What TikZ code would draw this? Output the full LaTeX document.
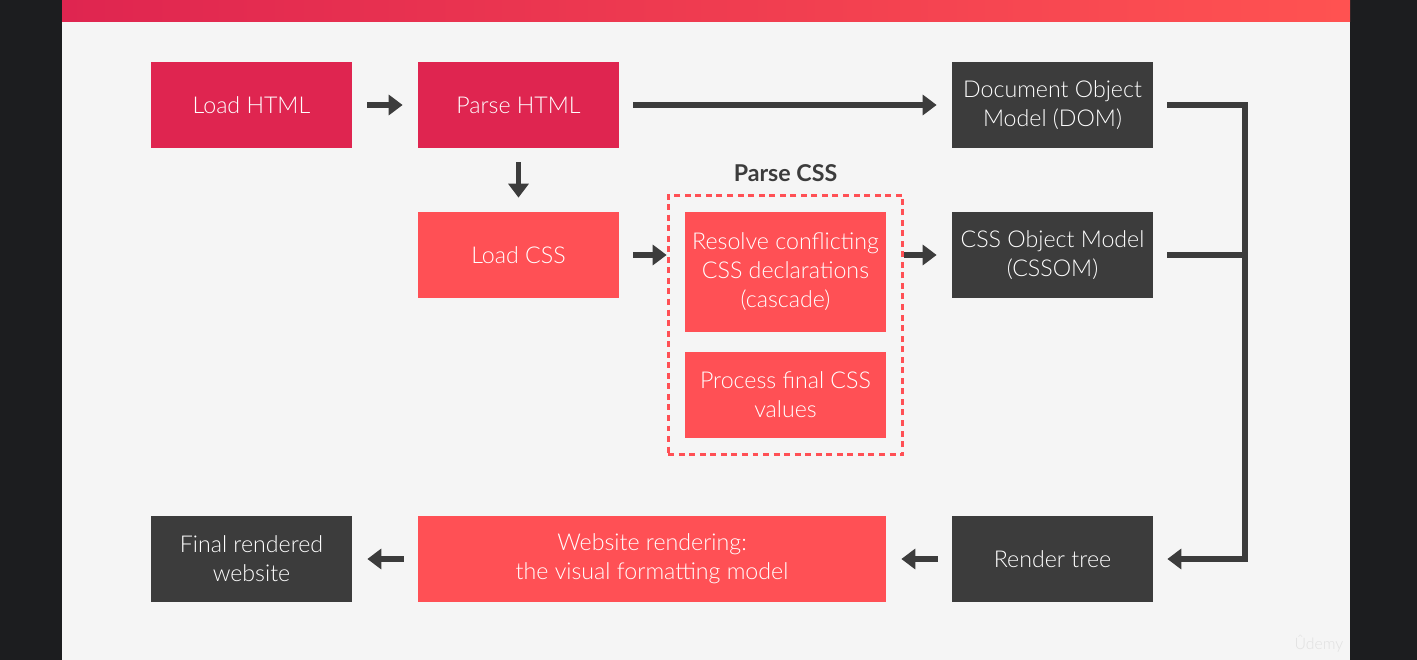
\documentclass[tikz,border=0pt]{standalone}
\usepackage{fontspec}
\IfFontExistsTF{Lato Light}{\setmainfont{Lato Light}[BoldFont={Lato Bold}]}{\setmainfont{Lato}}
\usepackage{xcolor}
\usepackage{tikz}
\usetikzlibrary{positioning}
\usetikzlibrary{fit}
\usetikzlibrary{arrows.meta}

\definecolor{crimson}{HTML}{DF2550}
\definecolor{coral}{HTML}{FF5055}
\definecolor{slate}{HTML}{3C3C3C}
\definecolor{page}{HTML}{F5F5F5}
\definecolor{frame}{HTML}{1C1D1F}

\begin{document}
\begin{tikzpicture}[
    box/.style={rectangle, inner sep=0pt, minimum width=4.02cm, minimum height=1.72cm,
                text=white, align=center, font=\fontsize{13.2}{16.5}\selectfont},
    html/.style={box, fill=crimson},
    css/.style={box, fill=coral},
    model/.style={box, fill=slate},
    arr/.style={line width=3.4pt, slate, -{Triangle[length=0.28cm, width=0.4cm]}},
    bar/.style={line width=3.4pt, slate},
    dashbox/.style={draw=coral, line width=1.7pt, dash pattern=on 3.4pt off 2.6pt, inner sep=0.33cm}
  ]

  % page and frame
  \useasboundingbox (0,0) rectangle (28.34,-13.2);
  \fill[frame] (0,0) rectangle (28.34,-13.2);
  \fill[page] (1.24,0) rectangle (27.0,-13.2);
  \shade[left color=crimson, right color=coral!95!orange] (1.24,0) rectangle (27.0,-0.44);

  % html row
  \node[html] (lhtml) at (5.03,-2.10) {Load HTML};
  \node[html] (phtml) at (10.37,-2.10) {Parse HTML};
  \node[model] (dom) at (21.05,-2.10) {Document Object\\Model (DOM)};

  % css row
  \node[css] (lcss) at (10.37,-5.10) {Load CSS};
  \node[css, minimum height=2.4cm] (resolve) at (15.71,-5.44) {Resolve conflicting\\CSS declarations\\(cascade)};
  \node[css] (process) at (15.71,-7.90) {Process final CSS\\values};
  \node[dashbox, fit=(resolve)(process)] (pcss) {};
  \node[above=0.12cm of pcss, text=slate, font=\fontsize{13.2}{16.5}\selectfont\bfseries] (pcsslabel) {Parse CSS};
  \node[model] (cssom) at (21.05,-5.10) {CSS Object Model\\(CSSOM)};

  % render row
  \node[model] (final) at (5.03,-11.18) {Final rendered\\website};
  \node[css, minimum width=9.36cm] (wrender) at (13.04,-11.18) {Website rendering:\\the visual formatting model};
  \node[model] (rtree) at (21.05,-11.18) {Render tree};

  \coordinate (bus) at (24.90,-2.10);

  % arrows
  \draw[arr, shorten <=0.3cm, shorten >=0.3cm] (lhtml) -- (phtml);
  \draw[arr, shorten <=0.28cm, shorten >=0.3cm] (phtml) -- (dom);
  \draw[arr, shorten <=0.28cm, shorten >=0.28cm] (phtml) -- (lcss);
  \draw[arr, shorten <=0.28cm] (lcss.east) -- (lcss.east -| pcss.west);
  \draw[arr, shorten >=0.3cm] (pcss.east |- lcss.east) -- (cssom.west);
  \draw[arr, shorten <=0.28cm, shorten >=0.28cm] (dom.east) -- (bus) |- (rtree.east);
  \draw[bar, shorten <=0.28cm] (cssom.east) -- (cssom.east -| bus);
  \draw[arr, shorten <=0.28cm, shorten >=0.3cm] (rtree) -- (wrender);
  \draw[arr, shorten <=0.28cm, shorten >=0.3cm] (wrender) -- (final);

  % watermark
  \node[text=black!12, font=\small] (logo) at (26.38,-12.88) {Ûdemy};

\end{tikzpicture}
\end{document}
